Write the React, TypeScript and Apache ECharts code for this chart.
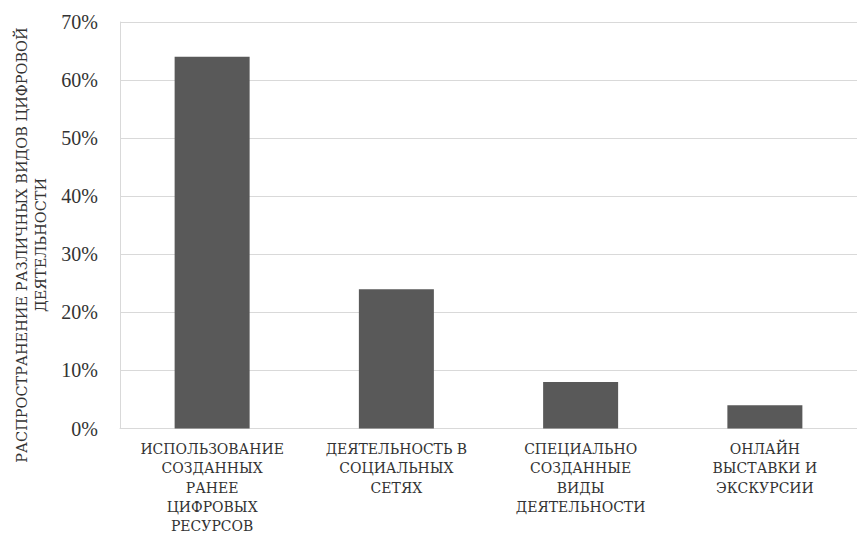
import React, { useEffect, useRef } from "react";
import * as echarts from "echarts";

const categories = [
  "ИСПОЛЬЗОВАНИЕ\nСОЗДАННЫХ\nРАНЕЕ\nЦИФРОВЫХ\nРЕСУРСОВ",
  "ДЕЯТЕЛЬНОСТЬ В\nСОЦИАЛЬНЫХ\nСЕТЯХ",
  "СПЕЦИАЛЬНО\nСОЗДАННЫЕ\nВИДЫ\nДЕЯТЕЛЬНОСТИ",
  "ОНЛАЙН\nВЫСТАВКИ И\nЭКСКУРСИИ",
];
const values = [64, 24, 8, 4];
const yTitle = "РАСПРОСТРАНЕНИЕ РАЗЛИЧНЫХ ВИДОВ ЦИФРОВОЙ\nДЕЯТЕЛЬНОСТИ";

const FONT = "Liberation Serif";
const CYR_FONT = "DejaVu Serif";

export default function App() {
  const ref = useRef<HTMLDivElement>(null);
  useEffect(() => {
    if (!ref.current) return;
    const chart = echarts.init(ref.current, undefined, { renderer: "svg" });
    chart.setOption({
      animation: false,
      backgroundColor: "#ffffff",
      grid: { left: 120, top: 22, width: 749, height: 411, containLabel: false },
      xAxis: {
        type: "category",
        data: categories,
        axisLine: { show: true, lineStyle: { color: "#d9d9d9", width: 1 } },
        axisTick: { show: false },
        axisLabel: {
          interval: 0,
          margin: 11,
          fontFamily: CYR_FONT,
          fontSize: 14,
          lineHeight: 19.3,
          color: "#333333",
          align: "center",
          verticalAlign: "top",
        },
      },
      yAxis: {
        type: "value",
        min: 0,
        max: 70,
        interval: 10,
        axisLine: { show: true, lineStyle: { color: "#d9d9d9", width: 1 } },
        axisTick: { show: false },
        splitLine: { show: true, lineStyle: { color: "#d9d9d9", width: 1 } },
        axisLabel: {
          formatter: "{value}%",
          margin: 22,
          fontFamily: FONT,
          fontSize: 20,
          color: "#333333",
        },
      },
      graphic: [
        {
          type: "text",
          x: 31,
          y: 245,
          rotation: Math.PI / 2,
          style: {
            text: yTitle,
            fontFamily: CYR_FONT,
            fontSize: 14.5,
            lineHeight: 19,
            fill: "#333333",
            align: "center",
            verticalAlign: "middle",
          },
        },
      ],
      series: [
        {
          type: "bar",
          data: values,
          barWidth: 75,
          itemStyle: { color: "#595959" },
        },
      ],
    });
    return () => chart.dispose();
  }, []);
  return (
    <div
      ref={ref}
      style={{ width: 857, height: 536, position: "absolute", left: 0, top: 0, overflow: "hidden" }}
    />
  );
}
